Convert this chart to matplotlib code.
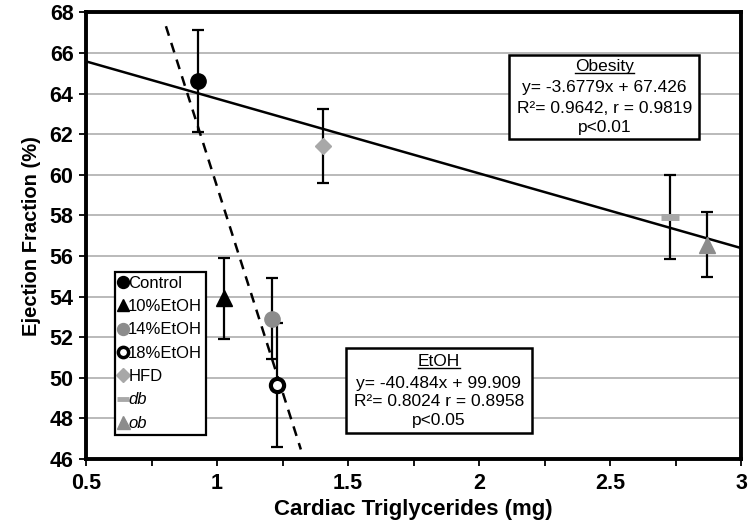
import matplotlib
matplotlib.use("Agg")
import matplotlib.pyplot as plt
from matplotlib.lines import Line2D
from matplotlib.patches import Rectangle
import numpy as np

plt.rcParams['font.family'] = ['Liberation Sans', 'DejaVu Sans']

# ---- data ----
groups = ["Control", "10%EtOH", "14%EtOH", "18%EtOH", "HFD", "db", "ob"]
tg = [0.929, 1.027, 1.209, 1.228, 1.406, 2.729, 2.869]
ef = [64.63, 53.92, 52.92, 49.66, 61.42, 57.92, 56.55]
ef_err = [2.5, 2.0, 2.0, 3.05, 1.8, 2.05, 1.6]

obesity_slope, obesity_icpt = -3.6779, 67.426
etoh_slope, etoh_icpt = -40.484, 99.909
obesity_xrange = [0.5, 3.0]
etoh_xrange = [0.805, 1.32]

obesity_lines = ["Obesity", "y= -3.6779x + 67.426", "R\u00b2= 0.9642, r = 0.9819", "p<0.01"]
etoh_lines = ["EtOH", "y= -40.484x + 99.909", "R\u00b2= 0.8024 r = 0.8958", "p<0.05"]

# ---- styles ----
styles = [
    dict(marker='o', color='black', mfc='black', mec='black', ms=11, mew=1),
    dict(marker='^', color='black', mfc='black', mec='black', ms=11, mew=1),
    dict(marker='o', color='#8c8c8c', mfc='#8c8c8c', mec='#8c8c8c', ms=11, mew=1),
    dict(marker='o', color='black', mfc='white', mec='black', ms=9.5, mew=3),
    dict(marker='D', color='#a8a8a8', mfc='#a8a8a8', mec='#a8a8a8', ms=8.5, mew=1),
    dict(marker='_', color='#a8a8a8', mfc='#a8a8a8', mec='#a8a8a8', ms=13, mew=5),
    dict(marker='^', color='#8c8c8c', mfc='#8c8c8c', mec='#8c8c8c', ms=12, mew=1),
]

fig = plt.figure(figsize=(7.5, 5.32), dpi=100)
ax = fig.add_axes([0.1147, 0.1372, 0.8733, 0.8395])

ax.set_xlim(0.5, 3.0)
ax.set_ylim(46, 68)
ax.set_yticks(np.arange(46, 69, 2))
ax.set_xticks([0.5, 1, 1.5, 2, 2.5, 3])
ax.set_xticklabels(["0.5", "1", "1.5", "2", "2.5", "3"])
ax.set_xticks(np.arange(0.5, 3.01, 0.25), minor=True)
ax.yaxis.grid(True, color='#b4b4b4', lw=1.3)
ax.set_axisbelow(True)
for s in ax.spines.values():
    s.set_linewidth(2.8)
ax.tick_params(axis='both', which='both', direction='out', length=5, width=1.3, labelsize=15.5)
ax.tick_params(axis='y', pad=4)
ax.tick_params(axis='x', pad=5)
for lab in ax.get_xticklabels() + ax.get_yticklabels():
    lab.set_fontweight('bold')

# regression lines
xo = np.array(obesity_xrange)
ax.plot(xo, obesity_slope * xo + obesity_icpt, color='black', lw=1.8, zorder=2)
xe = np.array(etoh_xrange)
ax.plot(xe, etoh_slope * xe + etoh_icpt, color='black', lw=1.8, ls=(0, (4, 3)), zorder=2)

# points
handles = []
for g, x, y, e, st in zip(groups, tg, ef, ef_err, styles):
    ax.errorbar(x, y, yerr=e, fmt='none', ecolor='black', elinewidth=1.6, capsize=4, capthick=1.6, zorder=3)
    ax.plot([x], [y], ls='none', zorder=4, **st)
    hs = dict(st)
    hs['ms'] = st['ms'] * 0.78
    if st['marker'] == '_':
        hs['ms'] = 9; hs['mew'] = 3.5
    if g == '18%EtOH':
        hs['mew'] = 2.5
    handles.append(Line2D([], [], ls='none', **hs))

leg = ax.legend(handles, groups, loc='lower left', bbox_to_anchor=(0.044, 0.054),
                frameon=True, fancybox=False, edgecolor='black', framealpha=1,
                fontsize=12, handlelength=0.5, handletextpad=0.05, labelspacing=0.5,
                borderpad=0.25, borderaxespad=0)
leg.get_frame().set_linewidth(1.6)
for t in leg.get_texts():
    if t.get_text() in ("db", "ob"):
        t.set_style('italic')

# equation boxes
def eq_box(x0, x1, y0, y1, lines, ys):
    ax.add_patch(Rectangle((x0, y0), x1 - x0, y1 - y0, fill=True, fc='white', ec='black', lw=1.8, zorder=5))
    xc = (x0 + x1) / 2
    texts = []
    for ln, yy in zip(lines, ys):
        texts.append(ax.text(xc, yy, ln, ha='center', va='center', fontsize=12.5, zorder=6))
    return texts

t_ob = eq_box(2.116, 2.840, 61.76, 65.90, obesity_lines, [65.33, 64.28, 63.29, 62.35])
t_et = eq_box(1.492, 2.201, 47.30, 51.45, etoh_lines, [50.79, 49.74, 48.82, 47.92])

ax.set_xlabel("Cardiac Triglycerides (mg)", fontsize=16, fontweight='bold', labelpad=4)
ax.set_ylabel("Ejection Fraction (%)", fontsize=14.5, fontweight='bold', labelpad=6)

# underline headers
fig.canvas.draw()
r = fig.canvas.get_renderer()
for t in (t_ob[0], t_et[0]):
    bb = t.get_window_extent(renderer=r)
    inv = fig.transFigure.inverted()
    (xa, ya) = inv.transform((bb.x0, bb.y0 + 1.5))
    (xb, _) = inv.transform((bb.x1, bb.y0 + 1.5))
    fig.add_artist(Line2D([xa, xb], [ya, ya], color='black', lw=1.0, zorder=7))

fig.savefig("out.png", dpi=100)
